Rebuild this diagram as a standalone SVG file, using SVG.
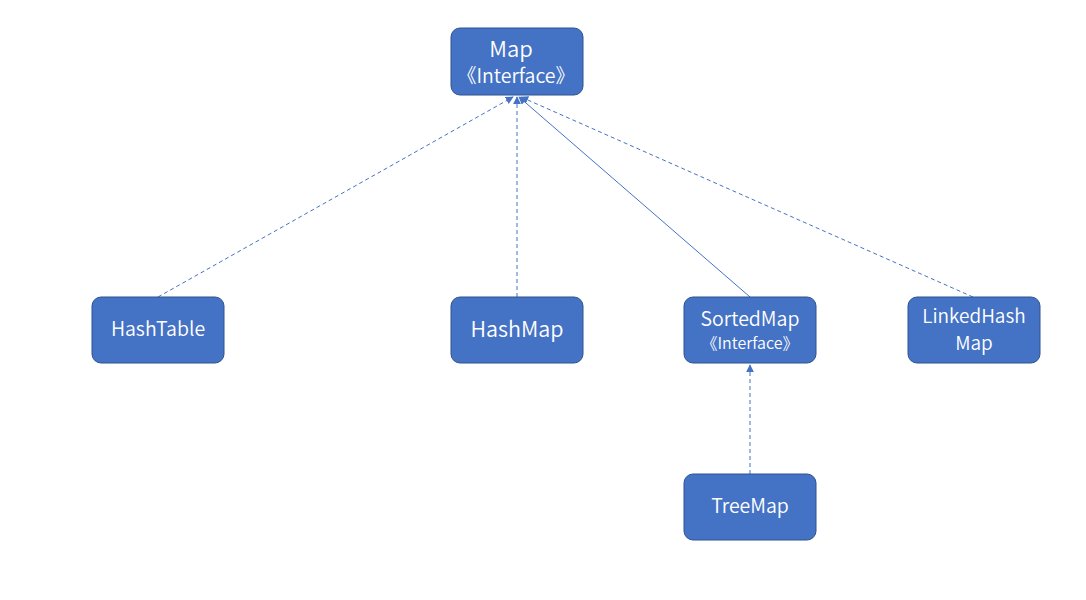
<svg xmlns="http://www.w3.org/2000/svg" width="1086" height="600" viewBox="0 0 1086 600">
<style>
.box{fill:#4472C4;stroke:#2F528F;stroke-width:1}
.t{fill:#fff;font-family:"Noto Sans CJK SC","Noto Sans",sans-serif;font-weight:350;text-anchor:middle}
.c{stroke:#4472C4;stroke-width:1;fill:none}
.d{stroke-dasharray:4 3}
</style>
<defs>
<marker id="ah" viewBox="0 0 10 10" refX="9" refY="5" markerWidth="8" markerHeight="8" markerUnits="userSpaceOnUse" orient="auto">
<path d="M0,0 L10,5 L0,10 z" fill="#4472C4"/>
</marker>
</defs>
<rect width="1086" height="600" fill="#fff"/>
<g id="connectors">
<line class="c d" x1="158" y1="297" x2="513" y2="97" marker-end="url(#ah)"/>
<line class="c d" x1="517" y1="297" x2="517" y2="97" marker-end="url(#ah)"/>
<line class="c" x1="750" y1="297" x2="519" y2="97" marker-end="url(#ah)"/>
<line class="c d" x1="973" y1="297" x2="521" y2="97" marker-end="url(#ah)"/>
<line class="c d" x1="750" y1="474" x2="750" y2="365" marker-end="url(#ah)"/>
</g>
<g id="map">
<rect class="box" x="451" y="28" width="132" height="67" rx="9"/>
<text class="t" x="511" y="57" font-size="22">Map</text>
<text class="t" x="516" y="83" font-size="19.5">《Interface》</text>
</g>
<g id="hashtable">
<rect class="box" x="92" y="297" width="132" height="66" rx="9"/>
<text class="t" x="158" y="336" font-size="19.5">HashTable</text>
</g>
<g id="hashmap">
<rect class="box" x="451" y="297" width="132" height="66" rx="9"/>
<text class="t" x="517" y="337" font-size="21.5">HashMap</text>
</g>
<g id="sortedmap">
<rect class="box" x="684" y="297" width="132" height="66" rx="9"/>
<text class="t" x="750" y="326" font-size="19.5">SortedMap</text>
<text class="t" x="750" y="349" font-size="16">《Interface》</text>
</g>
<g id="linkedhashmap">
<rect class="box" x="908" y="297" width="132" height="66" rx="9"/>
<text class="t" x="974" y="323" font-size="19">LinkedHash</text>
<text class="t" x="974" y="350" font-size="19">Map</text>
</g>
<g id="treemap">
<rect class="box" x="684" y="474" width="132" height="66" rx="9"/>
<text class="t" x="750" y="513" font-size="19.5">TreeMap</text>
</g>
</svg>
